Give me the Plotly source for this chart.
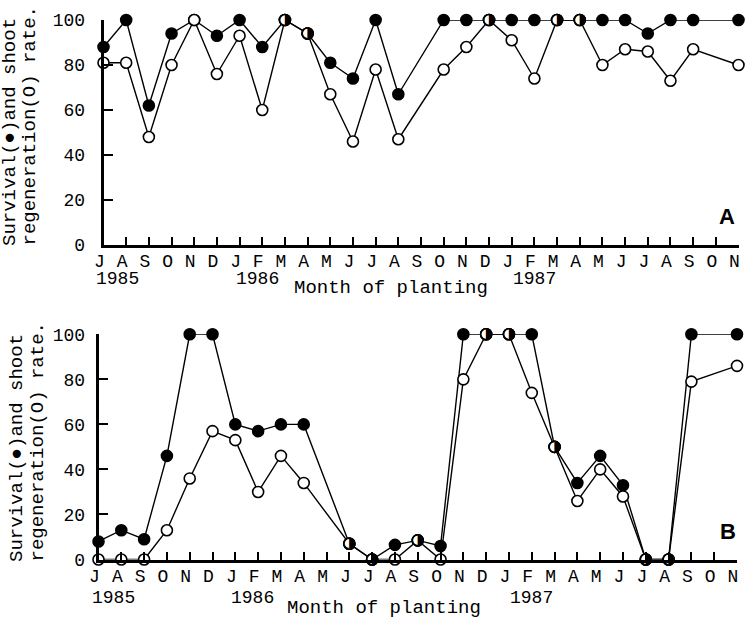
import plotly.graph_objects as go

months = ["J", "A", "S", "O", "N", "D", "J", "F", "M", "A", "M", "J", "J", "A", "S",
          "O", "N", "D", "J", "F", "M", "A", "M", "J", "J", "A", "S", "O", "N"]
years = ["1985", "1986", "1987"]
year_idx = [0, 6, 18]

# Panel A
surv_A = [88, 100, 62, 94, 100, 93, 100, 88, 100, 94, 81, 74, 100, 67, None,
          100, 100, 100, 100, 100, 100, 100, 100, 100, 94, 100, 100, None, 100]
regen_A = [81, 81, 48, 80, 100, 76, 93, 60, 100, 94, 67, 46, 78, 47, None,
           78, 88, 100, 91, 74, 100, 100, 80, 87, 86, 73, 87, None, 80]
half_A = [8, 9, 17, 20, 21]

# Panel B
surv_B = [8, 13, 9, 46, 100, 100, 60, 57, 60, 60, None, 7, 0, 6.5, 8.5,
          6, 100, 100, 100, 100, 50, 34, 46, 33, 0, 0, 100, None, 100]
regen_B = [0, 0, 0, 13, 36, 57, 53, 30, 46, 34, None, 7, 0, 0, 8.5,
           0, 80, 100, 100, 74, 50, 26, 40, 28, 0, 0, 79, None, 86]
half_B = [11, 12, 14, 17, 18, 20, 24, 25]

W, H = 753, 618
FONT = "Liberation Mono"
x = list(range(len(months)))

fig = go.Figure()


def add_panel(surv, regen, half, xa, ya):
    fig.add_trace(go.Scatter(
        x=x, y=surv, mode="lines+markers", connectgaps=True, cliponaxis=False,
        line=dict(color="black", width=1.4),
        marker=dict(symbol="circle", size=11, color="black",
                    line=dict(color="black", width=1.6)),
        xaxis=xa, yaxis=ya, showlegend=False))
    fig.add_trace(go.Scatter(
        x=x, y=regen, mode="lines+markers", connectgaps=True, cliponaxis=False,
        line=dict(color="black", width=1.4),
        marker=dict(symbol="circle", size=11, color="white",
                    line=dict(color="black", width=1.6)),
        xaxis=xa, yaxis=ya, showlegend=False))
    fig.add_trace(go.Scatter(
        x=[x[i] for i in half], y=[surv[i] for i in half], mode="markers",
        cliponaxis=False,
        marker=dict(symbol="circle", size=11, color="white",
                    line=dict(color="black", width=1.6)),
        xaxis=xa, yaxis=ya, showlegend=False))
    fig.add_trace(go.Scatter(
        x=[x[i] for i in half], y=[surv[i] for i in half], mode="text",
        cliponaxis=False, text=["\u25D1"] * len(half), textposition="middle center",
        textfont=dict(family="DejaVu Sans", size=15, color="black"),
        xaxis=xa, yaxis=ya, showlegend=False))


add_panel(surv_A, regen_A, half_A, "x", "y")
add_panel(surv_B, regen_B, half_B, "x2", "y2")


def xax(domain, anchor):
    return dict(domain=domain, anchor=anchor, range=[0, len(months) - 1],
                tickmode="array", tickvals=x, ticktext=months,
                ticks="inside", ticklen=8, tickwidth=2, tickcolor="black",
                showline=True, linewidth=2.5, linecolor="black",
                showgrid=False, zeroline=False, automargin=False,
                tickfont=dict(family=FONT, size=18, color="black"),
                ticklabelshift=-4, ticklabelstandoff=-2)


def yax(domain, anchor, standoff):
    return dict(domain=domain, anchor=anchor, range=[0, 100],
                tickmode="array", tickvals=[0, 20, 40, 60, 80, 100],
                ticks="inside", ticklen=10, tickwidth=2, tickcolor="black",
                showline=True, linewidth=2.5, linecolor="black",
                showgrid=False, zeroline=False, automargin=False,
                tickfont=dict(family=FONT, size=18, color="black"),
                ticklabelstandoff=standoff)


annotations = []


def panel_text(letter, title_x, title_y, year_y, month_x, month_y,
               letter_x, letter_y, xref):
    for yr, i, sh in zip(years, year_idx, [-9, -6, -1]):
        annotations.append(dict(x=i, xref=xref, y=1 - year_y / H, yref="paper",
                                text=yr, showarrow=False, xanchor="left", yanchor="middle",
                                xshift=sh, font=dict(family=FONT, size=18, color="black")))
    annotations.append(dict(x=month_x / W, xref="paper", y=1 - month_y / H, yref="paper",
                            text="Month of planting", showarrow=False,
                            xanchor="center", yanchor="middle",
                            font=dict(family=FONT, size=19, color="black")))
    annotations.append(dict(x=letter_x / W, xref="paper", y=1 - letter_y / H, yref="paper",
                            text="<b>%s</b>" % letter, showarrow=False,
                            xanchor="center", yanchor="middle",
                            font=dict(family="Liberation Sans", size=22, color="black")))
    for line, lx in zip(["Survival(\u25CF)and shoot", "regeneration(O) rate."], title_x):
        annotations.append(dict(x=lx / W, xref="paper", y=1 - title_y / H, yref="paper",
                                text=line, showarrow=False, textangle=-90,
                                xanchor="center", yanchor="bottom",
                                font=dict(family=FONT, size=19, color="black")))


panel_text("A", [10, 29], 248, 279, 391, 288, 727, 216, "x")
panel_text("B", [17, 37], 564, 598, 384, 608, 728, 531, "x2")

fig.update_layout(
    width=W, height=H, margin=dict(l=0, r=0, t=0, b=0, autoexpand=False),
    paper_bgcolor="white", plot_bgcolor="white",
    xaxis=xax([103.5 / W, 738.5 / W], "y"),
    yaxis=yax([1 - 245 / H, 1 - 20 / H], "x", 12),
    xaxis2=xax([98.5 / W, 737 / W], "y2"),
    yaxis2=yax([1 - 559.5 / H, 1 - 334.3 / H], "x2", 7),
    annotations=annotations,
)

fig.write_html("out.html", config={"displayModeBar": False},
               post_script="document.body.style.margin='0';document.body.style.overflow='hidden';")
